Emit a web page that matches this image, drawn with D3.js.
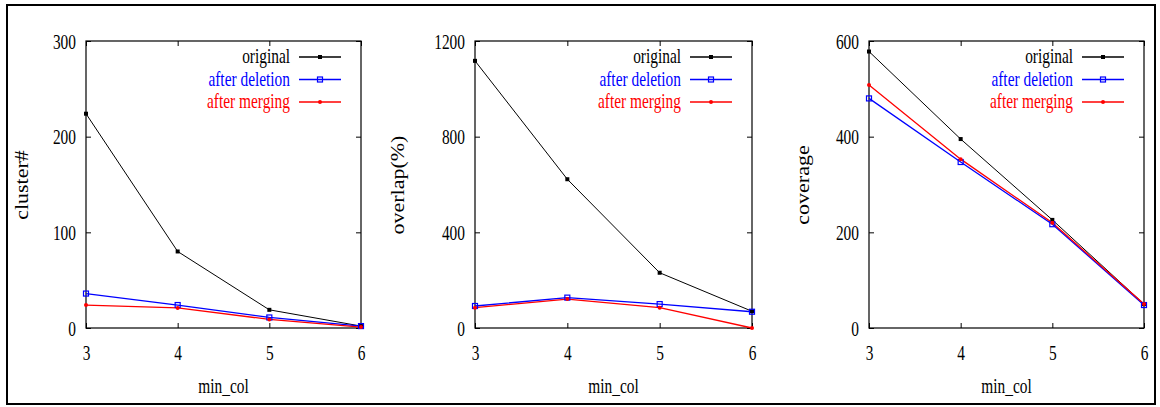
<!DOCTYPE html>
<html>
<head>
<meta charset="utf-8">
<script src="https://cdn.jsdelivr.net/npm/d3@7"></script>
<style>
  html, body { margin: 0; padding: 0; background: #fff; }
  svg text { font-family: "Liberation Serif", "DejaVu Serif", serif; }
</style>
</head>
<body>
<svg id="chart" width="1160" height="407"></svg>
<script>
// ---- data ----
const minCol = [3, 4, 5, 6];
const seriesNames = ["original", "after deletion", "after merging"];
const seriesColors = ["#000000", "#0000ff", "#ff0000"];

const clusterOriginal = [224, 80, 19, 2];
const clusterDeletion = [36, 24, 11, 2];
const clusterMerging = [24, 21, 9, 1];

const overlapOriginal = [1117, 622, 231, 70];
const overlapDeletion = [92, 127, 100, 68];
const overlapMerging = [85, 121, 85, 0];

const coverageOriginal = [578, 395, 226, 50];
const coverageDeletion = [480, 347, 217, 48];
const coverageMerging = [508, 353, 220, 50];

const clusterTicks = [0, 100, 200, 300];
const overlapTicks = [0, 400, 800, 1200];
const coverageTicks = [0, 200, 400, 600];

const xLabel = "min_col";

const panels = [
  { yLabel: "cluster#", yMax: 300, yTicks: clusterTicks, series: [clusterOriginal, clusterDeletion, clusterMerging],
    left: 86, right: 361, yLabelX: 28 },
  { yLabel: "overlap(%)", yMax: 1200, yTicks: overlapTicks, series: [overlapOriginal, overlapDeletion, overlapMerging],
    left: 475, right: 752, yLabelX: 404 },
  { yLabel: "coverage", yMax: 600, yTicks: coverageTicks, series: [coverageOriginal, coverageDeletion, coverageMerging],
    left: 869, right: 1144, yLabelX: 809 }
];

const plotTop = 41, plotBottom = 328;
const SX = 0.7;      // horizontal text compression
const FS = 22;
const FONT = '"Liberation Serif", "DejaVu Serif", serif';

const svg = d3.select("#chart");

// outer frame
svg.append("rect").attr("x", 7).attr("y", 5).attr("width", 1148).attr("height", 399)
  .attr("fill", "none").attr("stroke", "#000").attr("stroke-width", 2);

function drawMarkers(g, pts, si) {
  pts.forEach(([px, py]) => {
    if (si === 0) {
      g.append("rect").attr("x", px - 2).attr("y", py - 2).attr("width", 4).attr("height", 4).attr("fill", "#000");
    } else if (si === 1) {
      g.append("rect").attr("x", px - 2.5).attr("y", py - 2.5).attr("width", 5).attr("height", 5)
        .attr("fill", "none").attr("stroke", "#0000ff").attr("stroke-width", 1.2);
    } else {
      g.append("circle").attr("cx", px).attr("cy", py).attr("r", 2).attr("fill", "#ff0000");
    }
  });
}

panels.forEach(p => {
  const x = d3.scaleLinear().domain([3, 6]).range([p.left, p.right]);
  const y = d3.scaleLinear().domain([0, p.yMax]).range([plotBottom, plotTop]);
  const g = svg.append("g");

  // inward ticks on all sides
  const axB = g.append("g").attr("transform", `translate(0,${plotBottom})`)
    .call(d3.axisBottom(x).tickValues(minCol).tickSizeInner(-5).tickSizeOuter(0).tickFormat(d3.format("d")));
  const axT = g.append("g").attr("transform", `translate(0,${plotTop})`)
    .call(d3.axisTop(x).tickValues(minCol).tickSizeInner(-5).tickSizeOuter(0).tickFormat(""));
  const axL = g.append("g").attr("transform", `translate(${p.left},0)`)
    .call(d3.axisLeft(y).tickValues(p.yTicks).tickSizeInner(-5).tickSizeOuter(0).tickFormat(d3.format("d")));
  const axR = g.append("g").attr("transform", `translate(${p.right},0)`)
    .call(d3.axisRight(y).tickValues(p.yTicks).tickSizeInner(-5).tickSizeOuter(0).tickFormat(""));
  [axB, axT, axL, axR].forEach(a => {
    a.attr("font-family", FONT);
    a.select(".domain").remove();
    a.selectAll("line").attr("stroke", "#000").attr("stroke-width", 1);
  });
  axB.selectAll("text").attr("x", null).attr("y", null).attr("dy", null)
    .attr("transform", "translate(0,32) scale(" + SX + ",1)")
    .attr("font-size", FS).attr("fill", "#000").attr("font-family", FONT).attr("text-anchor", "middle");
  axL.selectAll("text").attr("x", null).attr("y", null).attr("dy", null)
    .attr("transform", "translate(-10,7) scale(" + SX + ",1)")
    .attr("font-size", FS).attr("fill", "#000").attr("font-family", FONT).attr("text-anchor", "end");

  // frame
  g.append("rect").attr("x", p.left).attr("y", plotTop).attr("width", p.right - p.left).attr("height", plotBottom - plotTop)
    .attr("fill", "none").attr("stroke", "#000").attr("stroke-width", 1.2);

  // axis labels
  g.append("text").attr("transform", `translate(${(p.left + p.right) / 2},393) scale(${SX},1)`)
    .attr("text-anchor", "middle").attr("font-size", FS).attr("font-family", FONT).text(xLabel);
  g.append("text").attr("transform", `translate(${p.yLabelX},185) rotate(-90) scale(1,0.85)`)
    .attr("text-anchor", "middle").attr("font-size", FS).attr("font-family", FONT).text(p.yLabel);

  const line = d3.line().x((d, i) => x(minCol[i])).y(d => y(d));

  p.series.forEach((vals, si) => {
    g.append("path").datum(vals).attr("d", line).attr("fill", "none")
      .attr("stroke", seriesColors[si]).attr("stroke-width", si === 0 ? 1 : 1.3);
  });
  p.series.forEach((vals, si) => {
    drawMarkers(g, vals.map((v, i) => [x(minCol[i]), y(v)]), si);
  });

  // legend
  const legRight = p.right - 71;
  seriesNames.forEach((name, si) => {
    const ly = 57 + si * 22.5;
    g.append("text").attr("transform", `translate(${legRight},${ly + 6}) scale(${SX},1)`)
      .attr("text-anchor", "end").attr("font-size", FS).attr("font-family", FONT)
      .attr("fill", seriesColors[si]).text(name);
    g.append("line").attr("x1", p.right - 62).attr("x2", p.right - 20).attr("y1", ly).attr("y2", ly)
      .attr("stroke", seriesColors[si]).attr("stroke-width", 1.3);
    drawMarkers(g, [[p.right - 41, ly]], si);
  });
});
</script>
</body>
</html>
